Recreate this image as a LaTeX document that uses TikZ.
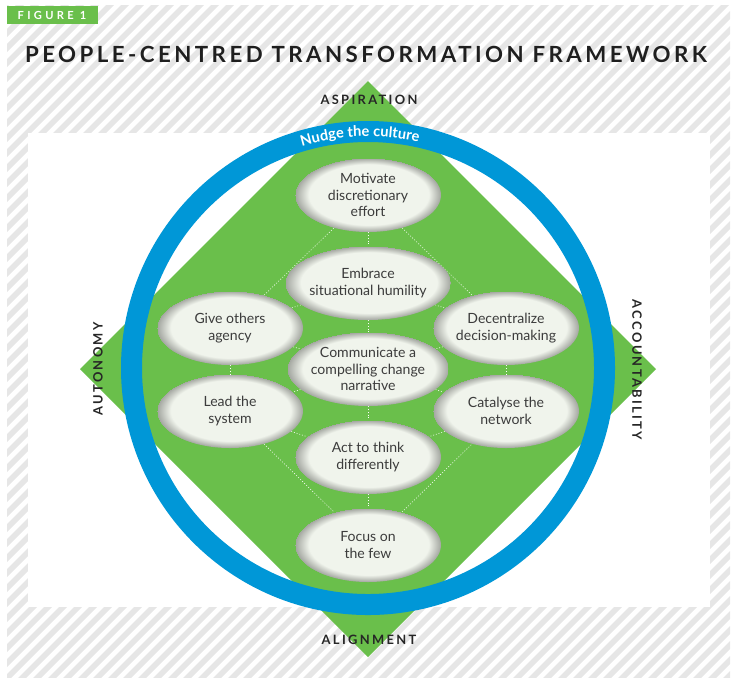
\documentclass[tikz,border=0pt]{standalone}
\usepackage{fontspec}
\setmainfont{Lato}
\newfontfamily\headfont[LetterSpace=15.5]{Lato}
\newfontfamily\axisfont[LetterSpace=18]{Lato}
\newfontfamily\tagfont[LetterSpace=30]{Lato}
\usetikzlibrary{shapes.geometric,decorations.text}
\definecolor{framegreen}{HTML}{6ABF4B}
\definecolor{ringblue}{HTML}{0097D7}
\definecolor{hatchgrey}{HTML}{E6E6E6}
\definecolor{ovalfill}{HTML}{F0F4EC}
\definecolor{ovalrim}{HTML}{A2A59F}
\definecolor{ovaltext}{HTML}{3C3C3C}
\pgfdeclareradialshading{ovalshade}{\pgfpoint{1.5bp}{1.5bp}}{color(0bp)=(ovalfill);color(20.5bp)=(ovalfill);color(25bp)=(ovalrim)}
\pgfdeclarelayer{backdrop}
\pgfdeclarelayer{lattice}
\pgfsetlayers{backdrop,lattice,main}
\tikzset{
	oval/.style={ellipse, shade, shading=ovalshade, minimum width=4.38cm, minimum height=2.22cm, inner sep=0pt, align=center, text=ovaltext, font=\fontsize{12}{14}\selectfont},
	latticeline/.style={white, line width=0.5pt, dash pattern=on 0.8pt off 1.6pt},
	hatchline/.style={hatchgrey, line width=0.17cm},
	axislabel/.style={text=black!85, font=\axisfont\bfseries\fontsize{11}{12}\selectfont}
}

\begin{document}
\begin{tikzpicture}[x=0.03cm, y=-0.03cm]
			%%%%% START %%%%%
			\useasboundingbox (0, 0) rectangle (740, 686);
			
			\begin{pgfonlayer}{backdrop}
				\begin{scope}
					\clip (7, 5) rectangle (730, 677);
					\foreach \k in {-680, -665, ..., 740}
						\draw[hatchline] (\k, 690) -- ++(690, -690);
				\end{scope}
				\fill[white] (28, 133) rectangle (710, 607);
				\fill[framegreen] (368, 81) -- (656, 369) -- (368, 657) -- (80, 369) -- cycle;
			\end{pgfonlayer}
			
			\fill[framegreen] (7, 6) rectangle (98, 24);
			\node[text=white, font=\tagfont\bfseries\fontsize{9.5}{10}\selectfont] (tag) at (52, 15) {FIGURE 1};
			\node[text=black!88, font=\headfont\bfseries\fontsize{19}{20}\selectfont] (title) at (366, 54) {PEOPLE-CENTRED TRANSFORMATION FRAMEWORK};
			
			\node[oval] (motivate) at (368, 195) {Motivate\\discretionary\\effort};
			\node[oval] (embrace) at (368, 283) {Embrace\\situational humility};
			\node[oval] (narrative) at (368, 369) {Communicate a\\compelling change\\narrative};
			\node[oval] (act) at (368, 457) {Act to think\\differently};
			\node[oval] (focus) at (368, 545) {Focus on\\the few};
			
			\node[oval] (agency) at (230, 328) {Give others\\agency};
			\node[oval] (system) at (230, 411) {Lead the\\system};
			\node[oval] (decentral) at (506, 328) {Decentralize\\decision-making};
			\node[oval] (network) at (506, 411) {Catalyse the\\network};
			
			\begin{pgfonlayer}{lattice}
				\draw[latticeline] (motivate) -- (embrace) -- (narrative) -- (act) -- (focus);
				\draw[latticeline] (agency) -- (system);
				\draw[latticeline] (decentral) -- (network);
				\draw[latticeline] (agency) -- (motivate) -- (decentral);
				\draw[latticeline] (system) -- (focus) -- (network);
				\draw[latticeline] (embrace) -- (agency) -- (narrative) -- (system) -- (act);
				\draw[latticeline] (embrace) -- (decentral) -- (narrative) -- (network) -- (act);
			\end{pgfonlayer}
			
			\draw[ringblue, line width=0.63cm] (368, 368) circle (236.5);
			\path[decorate, decoration={text along path, text align=center,
				text={|\color{white}\bfseries\fontsize{12.5}{13}\selectfont|Nudge the culture}}]
				(368, 368) ++(248:231.5) arc (248:288:231.5);
			
			\node[axislabel] (aspiration) at (369, 100) {ASPIRATION};
			\node[axislabel] (alignment) at (369, 640) {ALIGNMENT};
			\node[axislabel, rotate=90] (autonomy) at (98, 369) {AUTONOMY};
			\node[axislabel, rotate=-90] (accountability) at (637, 370) {ACCOUNTABILITY};
			%%%%% END %%%%%
\end{tikzpicture}
\end{document}
